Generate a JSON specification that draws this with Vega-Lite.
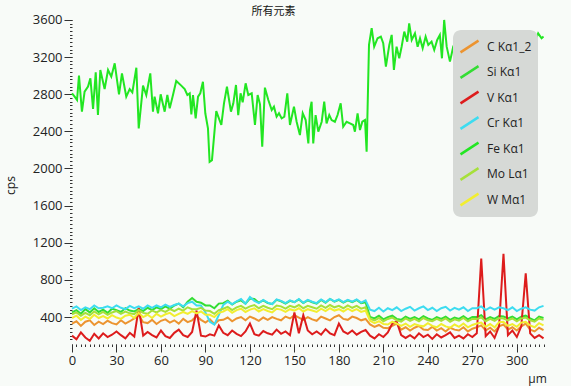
{
"$schema":"https://vega.github.io/schema/vega-lite/v6.json",
"width":473,"height":326,
"autosize":{"type":"none"},
"padding":{"left":72,"top":18,"right":26,"bottom":42},
"background":"#f8fbf8",
"title":{"text":"所有元素","frame":"group","anchor":"middle","dx":-35,"dy":7,"offset":4,"font":"Noto Sans CJK SC","fontSize":11,"fontWeight":"normal","color":"#111"},
"config":{"view":{"stroke":null},"axis":{"grid":false,"domain":false,"labelFont":"Open Sans","labelFontSize":13,"labelColor":"#222","tickColor":"#333","titleFont":"Open Sans","titleFontWeight":"normal","titleColor":"#222","titleFontSize":12}},
"datasets":{
"low":[
{"x":0,"C":330,"Si":450,"V":200,"Cr":490,"Mo":430,"W":390},
{"x":3,"C":355,"Si":475,"V":160,"Cr":515,"Mo":450,"W":415},
{"x":6,"C":305,"Si":435,"V":235,"Cr":475,"Mo":415,"W":370},
{"x":9,"C":350,"Si":485,"V":180,"Cr":505,"Mo":445,"W":405},
{"x":12,"C":365,"Si":450,"V":145,"Cr":485,"Mo":420,"W":380},
{"x":15,"C":315,"Si":495,"V":220,"Cr":525,"Mo":460,"W":425},
{"x":18,"C":350,"Si":455,"V":170,"Cr":495,"Mo":430,"W":390},
{"x":21,"C":325,"Si":480,"V":225,"Cr":500,"Mo":455,"W":410},
{"x":24,"C":360,"Si":445,"V":185,"Cr":515,"Mo":425,"W":385},
{"x":27,"C":335,"Si":490,"V":210,"Cr":495,"Mo":450,"W":420},
{"x":30,"C":320,"Si":475,"V":245,"Cr":525,"Mo":465,"W":395},
{"x":33,"C":365,"Si":455,"V":205,"Cr":500,"Mo":435,"W":380},
{"x":36,"C":330,"Si":495,"V":170,"Cr":485,"Mo":460,"W":415},
{"x":39,"C":355,"Si":470,"V":230,"Cr":520,"Mo":440,"W":425},
{"x":42,"C":385,"Si":460,"V":190,"Cr":495,"Mo":430,"W":390},
{"x":45,"C":420,"Si":485,"V":500,"Cr":515,"Mo":475,"W":445},
{"x":48,"C":345,"Si":465,"V":200,"Cr":490,"Mo":445,"W":400},
{"x":51,"C":335,"Si":500,"V":240,"Cr":525,"Mo":435,"W":425},
{"x":54,"C":370,"Si":475,"V":205,"Cr":500,"Mo":470,"W":390},
{"x":57,"C":325,"Si":505,"V":180,"Cr":525,"Mo":450,"W":435},
{"x":60,"C":360,"Si":485,"V":255,"Cr":505,"Mo":475,"W":405},
{"x":63,"C":375,"Si":515,"V":195,"Cr":535,"Mo":455,"W":430},
{"x":66,"C":340,"Si":490,"V":175,"Cr":510,"Mo":485,"W":445},
{"x":69,"C":365,"Si":525,"V":230,"Cr":530,"Mo":465,"W":410},
{"x":72,"C":330,"Si":545,"V":265,"Cr":545,"Mo":490,"W":435},
{"x":75,"C":380,"Si":505,"V":205,"Cr":515,"Mo":470,"W":455},
{"x":78,"C":345,"Si":565,"V":185,"Cr":550,"Mo":505,"W":435},
{"x":81,"C":365,"Si":605,"V":240,"Cr":565,"Mo":485,"W":465},
{"x":84,"C":410,"Si":565,"V":470,"Cr":525,"Mo":485,"W":440},
{"x":87,"C":370,"Si":555,"V":200,"Cr":525,"Mo":500,"W":460},
{"x":90,"C":340,"Si":525,"V":190,"Cr":450,"Mo":470,"W":425},
{"x":93,"C":375,"Si":525,"V":215,"Cr":350,"Mo":465,"W":425},
{"x":96,"C":325,"Si":495,"V":200,"Cr":320,"Mo":435,"W":400},
{"x":99,"C":365,"Si":545,"V":310,"Cr":420,"Mo":475,"W":445},
{"x":102,"C":370,"Si":550,"V":230,"Cr":530,"Mo":490,"W":460},
{"x":105,"C":395,"Si":575,"V":205,"Cr":565,"Mo":510,"W":485},
{"x":108,"C":355,"Si":535,"V":255,"Cr":540,"Mo":475,"W":445},
{"x":111,"C":385,"Si":565,"V":220,"Cr":570,"Mo":505,"W":475},
{"x":114,"C":400,"Si":580,"V":195,"Cr":595,"Mo":520,"W":490},
{"x":117,"C":365,"Si":545,"V":245,"Cr":545,"Mo":490,"W":455},
{"x":120,"C":405,"Si":600,"V":330,"Cr":615,"Mo":515,"W":480},
{"x":123,"C":385,"Si":595,"V":215,"Cr":575,"Mo":530,"W":495},
{"x":126,"C":360,"Si":555,"V":200,"Cr":550,"Mo":495,"W":460},
{"x":129,"C":395,"Si":580,"V":250,"Cr":585,"Mo":520,"W":485},
{"x":132,"C":370,"Si":550,"V":225,"Cr":555,"Mo":500,"W":465},
{"x":135,"C":400,"Si":540,"V":210,"Cr":540,"Mo":485,"W":450},
{"x":138,"C":380,"Si":585,"V":265,"Cr":590,"Mo":525,"W":490},
{"x":141,"C":365,"Si":570,"V":220,"Cr":575,"Mo":515,"W":480},
{"x":144,"C":405,"Si":545,"V":245,"Cr":550,"Mo":490,"W":455},
{"x":147,"C":385,"Si":575,"V":205,"Cr":580,"Mo":520,"W":485},
{"x":150,"C":420,"Si":560,"V":450,"Cr":560,"Mo":505,"W":470},
{"x":153,"C":395,"Si":590,"V":225,"Cr":595,"Mo":530,"W":495},
{"x":156,"C":370,"Si":550,"V":420,"Cr":555,"Mo":495,"W":460},
{"x":159,"C":400,"Si":580,"V":255,"Cr":585,"Mo":520,"W":485},
{"x":162,"C":375,"Si":560,"V":215,"Cr":565,"Mo":505,"W":470},
{"x":165,"C":360,"Si":545,"V":245,"Cr":550,"Mo":490,"W":455},
{"x":168,"C":405,"Si":585,"V":210,"Cr":590,"Mo":525,"W":490},
{"x":171,"C":385,"Si":555,"V":270,"Cr":560,"Mo":500,"W":465},
{"x":174,"C":365,"Si":595,"V":225,"Cr":595,"Mo":530,"W":495},
{"x":177,"C":400,"Si":565,"V":205,"Cr":570,"Mo":505,"W":470},
{"x":180,"C":420,"Si":585,"V":330,"Cr":590,"Mo":520,"W":485},
{"x":183,"C":380,"Si":555,"V":245,"Cr":560,"Mo":495,"W":460},
{"x":186,"C":370,"Si":580,"V":220,"Cr":585,"Mo":525,"W":490},
{"x":189,"C":405,"Si":560,"V":255,"Cr":565,"Mo":500,"W":465},
{"x":192,"C":390,"Si":585,"V":210,"Cr":590,"Mo":520,"W":485},
{"x":195,"C":365,"Si":550,"V":240,"Cr":555,"Mo":490,"W":455},
{"x":198,"C":380,"Si":560,"V":260,"Cr":580,"Mo":505,"W":470},
{"x":201,"C":320,"Si":400,"V":200,"Cr":480,"Mo":380,"W":360},
{"x":204,"C":295,"Si":385,"V":170,"Cr":465,"Mo":365,"W":335},
{"x":207,"C":315,"Si":415,"V":215,"Cr":500,"Mo":390,"W":355},
{"x":210,"C":285,"Si":375,"V":185,"Cr":460,"Mo":355,"W":325},
{"x":213,"C":280,"Si":400,"V":235,"Cr":495,"Mo":380,"W":320},
{"x":216,"C":305,"Si":415,"V":330,"Cr":475,"Mo":395,"W":350},
{"x":219,"C":330,"Si":380,"V":350,"Cr":505,"Mo":365,"W":330},
{"x":222,"C":265,"Si":370,"V":205,"Cr":465,"Mo":350,"W":305},
{"x":225,"C":290,"Si":405,"V":175,"Cr":490,"Mo":385,"W":330},
{"x":228,"C":255,"Si":380,"V":205,"Cr":510,"Mo":360,"W":295},
{"x":231,"C":285,"Si":400,"V":170,"Cr":470,"Mo":380,"W":325},
{"x":234,"C":305,"Si":375,"V":225,"Cr":495,"Mo":355,"W":310},
{"x":237,"C":265,"Si":410,"V":185,"Cr":515,"Mo":390,"W":300},
{"x":240,"C":260,"Si":385,"V":210,"Cr":475,"Mo":365,"W":335},
{"x":243,"C":295,"Si":370,"V":165,"Cr":500,"Mo":355,"W":305},
{"x":246,"C":255,"Si":400,"V":215,"Cr":465,"Mo":380,"W":290},
{"x":249,"C":280,"Si":380,"V":180,"Cr":495,"Mo":360,"W":325},
{"x":252,"C":245,"Si":405,"V":205,"Cr":510,"Mo":385,"W":300},
{"x":255,"C":285,"Si":370,"V":235,"Cr":470,"Mo":350,"W":285},
{"x":258,"C":265,"Si":395,"V":175,"Cr":500,"Mo":375,"W":320},
{"x":261,"C":255,"Si":380,"V":200,"Cr":480,"Mo":360,"W":295},
{"x":264,"C":290,"Si":410,"V":170,"Cr":505,"Mo":390,"W":330},
{"x":267,"C":245,"Si":375,"V":215,"Cr":465,"Mo":355,"W":290},
{"x":270,"C":275,"Si":400,"V":185,"Cr":495,"Mo":380,"W":315},
{"x":273,"C":290,"Si":400,"V":225,"Cr":495,"Mo":380,"W":330},
{"x":276,"C":310,"Si":420,"V":1030,"Cr":515,"Mo":395,"W":340},
{"x":279,"C":255,"Si":375,"V":195,"Cr":475,"Mo":355,"W":295},
{"x":282,"C":285,"Si":400,"V":245,"Cr":505,"Mo":380,"W":325},
{"x":285,"C":245,"Si":380,"V":175,"Cr":480,"Mo":360,"W":290},
{"x":288,"C":300,"Si":410,"V":300,"Cr":505,"Mo":390,"W":345},
{"x":291,"C":320,"Si":405,"V":1080,"Cr":495,"Mo":385,"W":350},
{"x":294,"C":265,"Si":385,"V":205,"Cr":475,"Mo":365,"W":305},
{"x":297,"C":290,"Si":405,"V":255,"Cr":505,"Mo":385,"W":325},
{"x":300,"C":255,"Si":375,"V":185,"Cr":465,"Mo":355,"W":295},
{"x":303,"C":300,"Si":405,"V":300,"Cr":490,"Mo":385,"W":340},
{"x":306,"C":330,"Si":415,"V":870,"Cr":505,"Mo":395,"W":350},
{"x":309,"C":265,"Si":385,"V":225,"Cr":480,"Mo":365,"W":310},
{"x":312,"C":245,"Si":365,"V":175,"Cr":470,"Mo":350,"W":290},
{"x":315,"C":285,"Si":405,"V":205,"Cr":505,"Mo":385,"W":335},
{"x":318,"C":260,"Si":390,"V":170,"Cr":520,"Mo":370,"W":310}
],
"fe":[
{"x":0,"Fe":2809},{"x":1.8,"Fe":2773},{"x":3.4,"Fe":2737},{"x":4.7,"Fe":2999},{"x":6.7,"Fe":2611},{"x":8.5,"Fe":2827},{"x":10.8,"Fe":2881},{"x":12.4,"Fe":2970},{"x":14.2,"Fe":2640},{"x":16,"Fe":3035},{"x":17.5,"Fe":2575},{"x":19.1,"Fe":3060},{"x":22,"Fe":2855},{"x":24.3,"Fe":3060},{"x":26.5,"Fe":2988},{"x":28.8,"Fe":3132},{"x":31.7,"Fe":2798},{"x":33.7,"Fe":3024},{"x":36.6,"Fe":2773},{"x":38.9,"Fe":2855},{"x":40.7,"Fe":2819},{"x":43.4,"Fe":3085},{"x":45,"Fe":2432},{"x":47.9,"Fe":2892},{"x":50.1,"Fe":2791},{"x":52.8,"Fe":3024},{"x":54.6,"Fe":2611},{"x":55.7,"Fe":2773},{"x":58,"Fe":2594},{"x":59.8,"Fe":2798},{"x":62.5,"Fe":2611},{"x":64.3,"Fe":2791},{"x":65.9,"Fe":2647},{"x":68.1,"Fe":2791},{"x":70.3,"Fe":2942},{"x":73.7,"Fe":2892},{"x":76,"Fe":2855},{"x":77.8,"Fe":2791},{"x":79.4,"Fe":2809},{"x":80.5,"Fe":2582},{"x":81.6,"Fe":2791},{"x":83.4,"Fe":2539},{"x":85,"Fe":2773},{"x":86.5,"Fe":2809},{"x":88.3,"Fe":2934},{"x":89.9,"Fe":2594},{"x":91.7,"Fe":2432},{"x":92.8,"Fe":2072},{"x":94.4,"Fe":2090},{"x":97.3,"Fe":2618},{"x":100.7,"Fe":2468},{"x":102.5,"Fe":2701},{"x":104.5,"Fe":2880},{"x":107.2,"Fe":2611},{"x":108.8,"Fe":2701},{"x":110.6,"Fe":2899},{"x":112.1,"Fe":2575},{"x":113.7,"Fe":2809},{"x":115.1,"Fe":2712},{"x":117.1,"Fe":2917},{"x":118.9,"Fe":2791},{"x":121.2,"Fe":2809},{"x":123.4,"Fe":2468},{"x":125.2,"Fe":2791},{"x":126.8,"Fe":2690},{"x":128.3,"Fe":2234},{"x":130.1,"Fe":2870},{"x":132.4,"Fe":2737},{"x":134.7,"Fe":2629},{"x":136.2,"Fe":2665},{"x":138,"Fe":2557},{"x":139.6,"Fe":2594},{"x":141.4,"Fe":2539},{"x":143.2,"Fe":2557},{"x":145.2,"Fe":2809},{"x":147,"Fe":2468},{"x":149.7,"Fe":2665},{"x":151.5,"Fe":2503},{"x":153.7,"Fe":2360},{"x":155.6,"Fe":2594},{"x":157.6,"Fe":2521},{"x":159.4,"Fe":2270},{"x":160.5,"Fe":2629},{"x":161.6,"Fe":2719},{"x":162.7,"Fe":2270},{"x":164.3,"Fe":2575},{"x":166.1,"Fe":2396},{"x":168.4,"Fe":2503},{"x":170.1,"Fe":2719},{"x":171.7,"Fe":2486},{"x":173.5,"Fe":2575},{"x":175.1,"Fe":2521},{"x":177.3,"Fe":2503},{"x":179.1,"Fe":2575},{"x":181.2,"Fe":2701},{"x":182.9,"Fe":2449},{"x":185.2,"Fe":2503},{"x":187.5,"Fe":2486},{"x":189.7,"Fe":2468},{"x":190.8,"Fe":2396},{"x":192.6,"Fe":2594},{"x":194.2,"Fe":2414},{"x":195.8,"Fe":2503},{"x":197.6,"Fe":2521},{"x":198.7,"Fe":2180},{"x":200.3,"Fe":3330},{"x":202.1,"Fe":3510},{"x":203.8,"Fe":3311},{"x":206.1,"Fe":3402},{"x":208.3,"Fe":3420},{"x":209.9,"Fe":3348},{"x":211.7,"Fe":3096},{"x":214,"Fe":3330},{"x":215.6,"Fe":3438},{"x":217.1,"Fe":3060},{"x":218.9,"Fe":3311},{"x":220.7,"Fe":3186},{"x":222.3,"Fe":3311},{"x":224.1,"Fe":3473},{"x":226.1,"Fe":3366},{"x":227.4,"Fe":3562},{"x":229.1,"Fe":3384},{"x":231.3,"Fe":3455},{"x":233.1,"Fe":3311},{"x":234.7,"Fe":3402},{"x":236.5,"Fe":3294},{"x":238.5,"Fe":3420},{"x":240.3,"Fe":3330},{"x":242.5,"Fe":3366},{"x":244.3,"Fe":3276},{"x":246.3,"Fe":3384},{"x":248.1,"Fe":3438},{"x":249.5,"Fe":3186},{"x":251,"Fe":3599},{"x":252.7,"Fe":3311},{"x":254.9,"Fe":3150},{"x":257.1,"Fe":3311},{"x":259.4,"Fe":3384},{"x":261.6,"Fe":3311},{"x":263.9,"Fe":3420},{"x":266.6,"Fe":3348},{"x":268.8,"Fe":3420},{"x":271.1,"Fe":3366},{"x":272.9,"Fe":3294},{"x":275.1,"Fe":2360},{"x":276.3,"Fe":3186},{"x":278.5,"Fe":3258},{"x":280.7,"Fe":3455},{"x":282.5,"Fe":3384},{"x":284.1,"Fe":3455},{"x":285.9,"Fe":3150},{"x":287.1,"Fe":3438},{"x":288.6,"Fe":2450},{"x":290.4,"Fe":3402},{"x":292.7,"Fe":3276},{"x":294.2,"Fe":3473},{"x":296,"Fe":3150},{"x":297.6,"Fe":3348},{"x":299.4,"Fe":3438},{"x":300.9,"Fe":3186},{"x":303.2,"Fe":3438},{"x":305,"Fe":3114},{"x":306.6,"Fe":3402},{"x":308.8,"Fe":3455},{"x":310.6,"Fe":3078},{"x":312.2,"Fe":3366},{"x":314.4,"Fe":3455},{"x":316.7,"Fe":3402},{"x":318,"Fe":3420}
]
},
"resolve":{"axis":{"x":"independent","y":"independent"}},
"layer":[
{"data":{"name":"low"},
 "transform":[{"fold":["C","Si","V","Cr","Mo","W"],"as":["s","y"]}],
 "mark":{"type":"line","strokeWidth":2},
 "encoding":{
  "x":{"field":"x","type":"quantitative","scale":{"domain":[0,319],"nice":false,"zero":false},
   "axis":{"values":[0,30,60,90,120,150,180,210,240,270,300],"format":"d","tickSize":8,"labelPadding":2,"labelFlush":false,"title":"µm","titleX":465,"titleY":34,"titleAlign":"center","titleBaseline":"middle"}},
  "y":{"field":"y","type":"quantitative","scale":{"domain":[110,3620],"nice":false,"zero":false},
   "axis":{"values":[400,800,1200,1600,2000,2400,2800,3200,3600],"format":"d","tickSize":8,"labelPadding":2,"title":"cps","titleX":-62,"titleY":167,"titleAlign":"center","titleBaseline":"middle"}},
  "color":{"field":"s","type":"nominal",
   "scale":{"domain":["C","Si","V","Cr","Fe","Mo","W"],"range":["#ec9430","#33dd33","#dd1c1c","#3ddcf0","#22e622","#a6e03a","#f2ee30"]},
   "legend":{"title":null,"orient":"none","legendX":381,"legendY":12,"fillColor":"#d6d9d6","cornerRadius":8,"padding":6,"symbolType":"M-1,0.65L1,-0.65","symbolSize":324,"symbolStrokeWidth":2.5,"labelFont":"Open Sans","labelFontSize":12,"labelColor":"#222","labelOffset":7,"rowPadding":2.5,
    "labelExpr":"datum.label == 'C' ? 'C Kα1_2' : datum.label == 'Si' ? 'Si Kα1' : datum.label == 'V' ? 'V Kα1' : datum.label == 'Cr' ? 'Cr Kα1' : datum.label == 'Fe' ? 'Fe Kα1' : datum.label == 'Mo' ? 'Mo Lα1' : 'W Mα1'"}}
 }},
{"data":{"name":"fe"},
 "transform":[{"fold":["Fe"],"as":["s","y"]}],
 "mark":{"type":"line","strokeWidth":2},
 "encoding":{
  "x":{"field":"x","type":"quantitative","scale":{"domain":[0,319],"nice":false,"zero":false},
   "axis":{"orient":"bottom","values":[0,3,6,9,12,15,18,21,24,27,30,33,36,39,42,45,48,51,54,57,60,63,66,69,72,75,78,81,84,87,90,93,96,99,102,105,108,111,114,117,120,123,126,129,132,135,138,141,144,147,150,153,156,159,162,165,168,171,174,177,180,183,186,189,192,195,198,201,204,207,210,213,216,219,222,225,228,231,234,237,240,243,246,249,252,255,258,261,264,267,270,273,276,279,282,285,288,291,294,297,300,303,306,309,312,315,318],"tickSize":2.5,"labels":false,"title":null}},
  "y":{"field":"y","type":"quantitative","scale":{"domain":[110,3620],"nice":false,"zero":false},
   "axis":{"orient":"left","values":[160,200,240,280,320,360,400,440,480,520,560,600,640,680,720,760,800,840,880,920,960,1000,1040,1080,1120,1160,1200,1240,1280,1320,1360,1400,1440,1480,1520,1560,1600,1640,1680,1720,1760,1800,1840,1880,1920,1960,2000,2040,2080,2120,2160,2200,2240,2280,2320,2360,2400,2440,2480,2520,2560,2600,2640,2680,2720,2760,2800,2840,2880,2920,2960,3000,3040,3080,3120,3160,3200,3240,3280,3320,3360,3400,3440,3480,3520,3560,3600],"tickSize":2.5,"labels":false,"title":null}},
  "color":{"field":"s","type":"nominal","scale":{"domain":["C","Si","V","Cr","Fe","Mo","W"],"range":["#ec9430","#33dd33","#dd1c1c","#3ddcf0","#22e622","#a6e03a","#f2ee30"]}}
 }}
]
}
